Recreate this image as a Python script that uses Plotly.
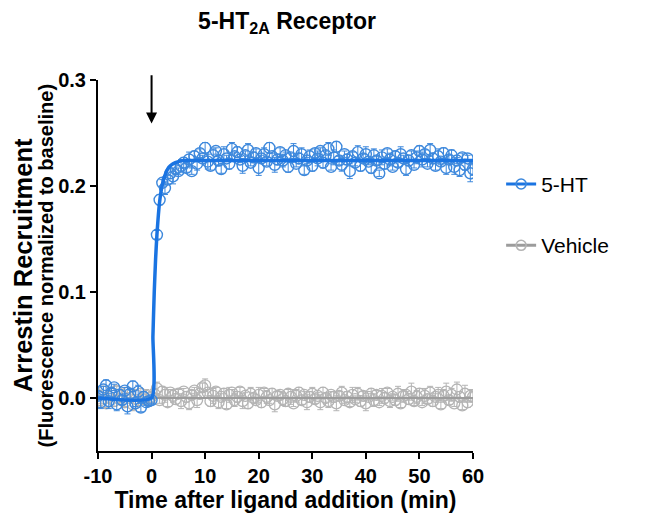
import plotly.graph_objects as go

# 5-HT readings, before addition (-10..0 min, every 0.5 min)
ht_pre_time = [-10 + 0.5 * i for i in range(21)]
ht_pre = [0.002, -0.004, 0.008, 0.012, -0.003, 0.005, 0.010, -0.006, 0.003, -0.002,
          0.007, -0.008, 0.004, 0.011, -0.005, 0.006, -0.009, 0.001, -0.004, -0.003,
          -0.002]
ht_pre_err = [0.004, 0.006, 0.003, 0.005, 0.007, 0.004, 0.003, 0.006, 0.005, 0.004,
              0.003, 0.007, 0.004, 0.005, 0.003, 0.006, 0.004, 0.005, 0.003, 0.004,
              0.003]

# 5-HT readings after addition (1..60 min, every 0.5 min)
ht_post_time = [1 + 0.5 * i for i in range(119)]
ht_post = [0.154, 0.187, 0.203, 0.198, 0.206, 0.212, 0.209, 0.216, 0.214, 0.219,
           0.222, 0.217, 0.225, 0.214, 0.228, 0.221, 0.231, 0.226, 0.236, 0.223,
           0.219, 0.229, 0.233, 0.224, 0.216, 0.230, 0.226, 0.221, 0.235, 0.228,
           0.232, 0.225, 0.219, 0.229, 0.234, 0.222, 0.227, 0.231, 0.217, 0.226,
           0.230, 0.223, 0.236, 0.228, 0.220, 0.225, 0.232, 0.224, 0.229, 0.218,
           0.227, 0.233, 0.221, 0.226, 0.230, 0.215, 0.224, 0.228, 0.219, 0.231,
           0.226, 0.233, 0.222, 0.229, 0.235, 0.218, 0.227, 0.237, 0.224, 0.220,
           0.230, 0.225, 0.214, 0.228, 0.222, 0.232, 0.219, 0.226, 0.230, 0.223,
           0.217, 0.229, 0.224, 0.212, 0.227, 0.221, 0.231, 0.225, 0.218, 0.228,
           0.222, 0.230, 0.226, 0.216, 0.224, 0.229, 0.220, 0.227, 0.233, 0.225,
           0.230, 0.221, 0.234, 0.226, 0.219, 0.228, 0.223, 0.231, 0.217, 0.225,
           0.229, 0.218, 0.224, 0.215, 0.227, 0.220, 0.226, 0.212, 0.216]
ht_post_err = [0.004, 0.005, 0.003, 0.006, 0.004, 0.005, 0.007, 0.004, 0.003, 0.006,
               0.005, 0.004, 0.007, 0.003, 0.005, 0.006, 0.004, 0.003, 0.005, 0.007,
               0.004, 0.006, 0.003, 0.005, 0.004, 0.007, 0.003, 0.005, 0.006, 0.004,
               0.005, 0.003, 0.007, 0.004, 0.006, 0.003, 0.005, 0.004, 0.007, 0.003,
               0.006, 0.004, 0.005, 0.003, 0.007, 0.005, 0.004, 0.006, 0.003, 0.005,
               0.004, 0.007, 0.003, 0.005, 0.006, 0.004, 0.003, 0.006, 0.005, 0.004,
               0.007, 0.003, 0.005, 0.004, 0.006, 0.003, 0.007, 0.005, 0.004, 0.006,
               0.003, 0.005, 0.007, 0.004, 0.003, 0.006, 0.005, 0.004, 0.007, 0.003,
               0.005, 0.006, 0.004, 0.003, 0.007, 0.005, 0.004, 0.006, 0.003, 0.005,
               0.004, 0.007, 0.003, 0.006, 0.005, 0.004, 0.003, 0.006, 0.005, 0.007,
               0.004, 0.003, 0.006, 0.005, 0.004, 0.007, 0.003, 0.005, 0.006, 0.004,
               0.005, 0.007, 0.003, 0.006, 0.004, 0.005, 0.003, 0.008, 0.006]

# fitted association curve for 5-HT
fit_time = [-10, 0, 0.25, 0.5, 0.75, 1, 1.5, 2, 2.5, 3, 3.5, 4, 5, 6, 8, 60]
fit_value = [0, 0, 0.058, 0.100, 0.131, 0.154, 0.185, 0.201, 0.210, 0.216, 0.219,
             0.221, 0.223, 0.224, 0.224, 0.224]

# vehicle readings (-10..60 min, every 0.5 min)
veh_time = [-10 + 0.5 * i for i in range(141)]
veh = [0.003, -0.002, 0.006, -0.005, 0.001, 0.004, -0.003, 0.007, -0.001, 0.002,
       -0.004, 0.005, 0.000, -0.006, 0.003, -0.002, 0.004, -0.001, 0.002, -0.003,
       0.001, 0.004, 0.009, -0.002, 0.006, 0.003, -0.004, 0.005, 0.002, -0.001,
       0.004, -0.003, 0.006, 0.001, -0.005, 0.003, 0.007, -0.002, 0.004, 0.010,
       0.012, 0.005, -0.003, 0.002, 0.006, -0.004, 0.001, 0.004, -0.006, 0.003,
       0.005, -0.002, 0.001, 0.006, -0.003, 0.002, -0.005, 0.004, 0.000, -0.002,
       0.003, -0.004, 0.005, 0.001, -0.002, 0.004, -0.006, 0.002, 0.003, -0.001,
       -0.003, 0.004, 0.001, -0.005, 0.002, 0.005, -0.002, 0.003, -0.004, 0.001,
       0.004, -0.001, 0.002, -0.004, 0.005, 0.000, -0.003, 0.003, 0.001, -0.005,
       0.002, 0.005, -0.002, 0.001, -0.004, 0.003, -0.001, 0.004, -0.003, 0.002,
       -0.005, 0.001, 0.004, -0.002, 0.003, -0.004, 0.002, 0.000, 0.005, -0.003,
       0.001, -0.002, 0.004, -0.005, 0.002, 0.003, -0.001, 0.006, -0.003, 0.001,
       0.004, -0.004, 0.002, -0.001, 0.005, -0.003, 0.001, 0.003, -0.006, 0.002,
       0.006, -0.002, 0.003, -0.005, 0.008, 0.001, -0.007, 0.004, -0.004, 0.002,
       0.001]
veh_err = [0.004, 0.003, 0.005, 0.004, 0.006, 0.003, 0.005, 0.004, 0.003, 0.006,
           0.004, 0.005, 0.003, 0.006, 0.004, 0.003, 0.005, 0.004, 0.006, 0.003,
           0.005, 0.004, 0.006, 0.003, 0.005, 0.007, 0.004, 0.003, 0.006, 0.005,
           0.004, 0.007, 0.003, 0.005, 0.006, 0.004, 0.003, 0.007, 0.005, 0.004,
           0.006, 0.003, 0.005, 0.007, 0.004, 0.006, 0.003, 0.005, 0.004, 0.007,
           0.003, 0.006, 0.005, 0.004, 0.007, 0.003, 0.005, 0.006, 0.004, 0.003,
           0.007, 0.005, 0.004, 0.006, 0.003, 0.005, 0.007, 0.004, 0.003, 0.006,
           0.005, 0.004, 0.007, 0.003, 0.006, 0.005, 0.004, 0.003, 0.007, 0.005,
           0.006, 0.004, 0.003, 0.007, 0.005, 0.004, 0.006, 0.003, 0.005, 0.007,
           0.004, 0.006, 0.003, 0.005, 0.004, 0.007, 0.003, 0.006, 0.005, 0.004,
           0.007, 0.003, 0.005, 0.006, 0.004, 0.003, 0.007, 0.005, 0.004, 0.006,
           0.003, 0.005, 0.007, 0.004, 0.006, 0.003, 0.005, 0.008, 0.004, 0.006,
           0.005, 0.003, 0.007, 0.004, 0.006, 0.005, 0.003, 0.007, 0.004, 0.006,
           0.008, 0.004, 0.006, 0.003, 0.007, 0.005, 0.004, 0.008, 0.005, 0.006,
           0.004]
veh_fit_time = [0, 60]
veh_fit_value = [0, 0]

x_ticks = [-10, 0, 10, 20, 30, 40, 50, 60]
x_ticktext = ["-10", "0", "10", "20", "30", "40", "50", "60"]
y_ticks = [0, 0.1, 0.2, 0.3]

BLUE_LINE = "#1a74e2"
BLUE_MARK = "#3d88dc"
GREY_LINE = "#9c9c9c"
GREY_MARK = "#b4b4b4"
FONT = "Arial, Liberation Sans, sans-serif"

fig = go.Figure()

fig.add_trace(go.Scatter(
    x=veh_time, y=veh, mode="markers", showlegend=False,
    marker=dict(symbol="circle-open", size=11, color=GREY_MARK, line=dict(width=1.3)),
    error_y=dict(type="data", array=veh_err, color=GREY_MARK, thickness=1, width=3),
))
fig.add_trace(go.Scatter(
    x=veh_fit_time, y=veh_fit_value, mode="lines", showlegend=False,
    line=dict(color=GREY_LINE, width=2),
))
fig.add_trace(go.Scatter(
    x=ht_pre_time + ht_post_time, y=ht_pre + ht_post, mode="markers", showlegend=False,
    marker=dict(symbol="circle-open", size=11, color=BLUE_MARK, line=dict(width=1.4)),
    error_y=dict(type="data", array=ht_pre_err + ht_post_err, color=BLUE_MARK, thickness=1, width=3),
))
fig.add_trace(go.Scatter(
    x=fit_time, y=fit_value, mode="lines", showlegend=False,
    line=dict(color=BLUE_LINE, width=3.5, shape="spline", smoothing=0.5),
))

# legend-only entries
for name, lc, mc, grp in [("5-HT", BLUE_LINE, BLUE_MARK, "a"), ("Vehicle", GREY_LINE, GREY_MARK, "b")]:
    fig.add_trace(go.Scatter(
        x=[None], y=[None], mode="lines+markers", name=name, legendgroup=grp,
        line=dict(color=lc, width=3),
        marker=dict(symbol="circle-open", size=10, color=mc, line=dict(width=1.6)),
    ))

fig.add_annotation(
    x=0, y=0.259, ax=0, ay=0.306, xref="x", yref="y", axref="x", ayref="y",
    text="", showarrow=True, arrowhead=2, arrowsize=1.1, arrowwidth=2, arrowcolor="black",
)

# two-line y axis title
fig.add_annotation(
    text="<b>Arrestin Recruitment</b>", xref="paper", yref="paper",
    x=-0.201, y=0.5, xanchor="center", yanchor="middle", textangle=-90,
    showarrow=False, font=dict(size=25.5, family=FONT, color="black"),
)
fig.add_annotation(
    text="<b>(Fluorescence normalized to baseline)</b>", xref="paper", yref="paper",
    x=-0.139, y=0.5, xanchor="center", yanchor="middle", textangle=-90,
    showarrow=False, font=dict(size=20, family=FONT, color="black"),
)

# page body adds 8 px on the top and left, margins compensate for it
fig.update_layout(
    width=650, height=525,
    margin=dict(l=90, r=185, t=72, b=82),
    plot_bgcolor="white", paper_bgcolor="white",
    font=dict(family=FONT, color="black"),
    title=dict(
        text="5-HT<sub>2A</sub> Receptor", x=0.504, xref="paper", xanchor="center",
        y=0.975, yanchor="middle", automargin=False,
        font=dict(size=23, weight="bold", family=FONT),
    ),
    legend=dict(
        x=1.075, y=0.774, xanchor="left", yanchor="top", tracegroupgap=31,
        font=dict(size=21, family=FONT), itemwidth=30,
    ),
    xaxis=dict(
        range=[-10, 60], tickvals=x_ticks, ticktext=x_ticktext, automargin=False,
        showline=True, linecolor="black", linewidth=2, ticks="outside", ticklen=6, tickwidth=2,
        tickcolor="black", showgrid=False, zeroline=False,
        tickfont=dict(size=20, weight="bold"),
        title=dict(text="Time after ligand addition (min)", font=dict(size=23, weight="bold"), standoff=4),
    ),
    yaxis=dict(
        range=[-0.05, 0.3], tickvals=y_ticks, tickformat=".1f", automargin=False,
        showline=True, linecolor="black", linewidth=2, ticks="outside", ticklen=6, tickwidth=2,
        tickcolor="black", showgrid=False, zeroline=False,
        tickfont=dict(size=20, weight="bold"),
    ),
)

fig.write_html("out.html")
